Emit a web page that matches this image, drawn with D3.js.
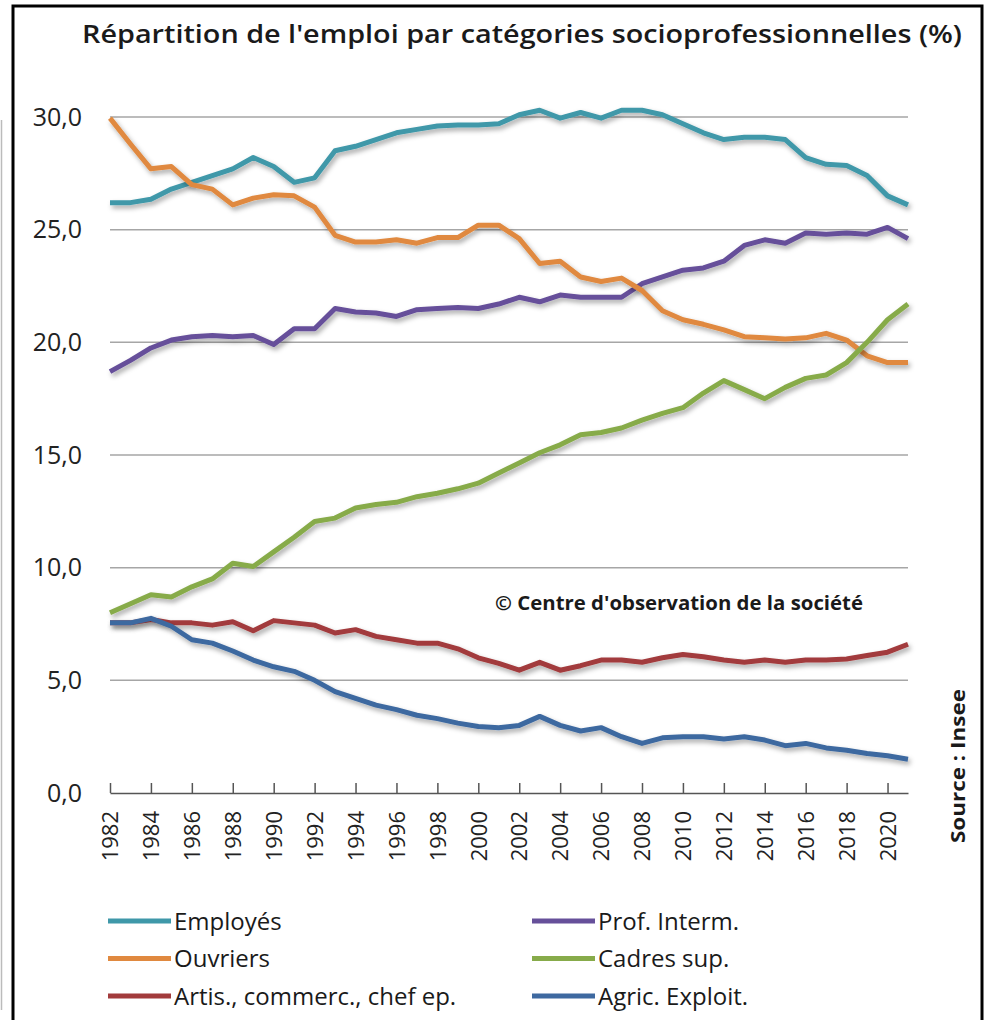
<html>
<head>
  <meta charset="utf-8" />
  <script src="https://d3js.org/d3.v7.min.js"></script>
</head>
<body style="margin: 0; background: white">
<script>

// years on the category axis
var years = [1982, 1983, 1984, 1985, 1986, 1987, 1988, 1989, 1990, 1991,
             1992, 1993, 1994, 1995, 1996, 1997, 1998, 1999, 2000, 2001,
             2002, 2003, 2004, 2005, 2006, 2007, 2008, 2009, 2010, 2011,
             2012, 2013, 2014, 2015, 2016, 2017, 2018, 2019, 2020, 2021]

var tickYears = [1982, 1984, 1986, 1988, 1990, 1992, 1994, 1996, 1998, 2000,
                 2002, 2004, 2006, 2008, 2010, 2012, 2014, 2016, 2018, 2020]
var yTicks = [0, 5, 10, 15, 20, 25, 30]

var employes = [26.2, 26.2, 26.35, 26.8, 27.1, 27.4, 27.7, 28.2, 27.8, 27.1,
                27.3, 28.5, 28.7, 29.0, 29.3, 29.45, 29.6, 29.65, 29.65, 29.7,
                30.1, 30.3, 29.95, 30.2, 29.95, 30.3, 30.3, 30.1, 29.7, 29.3,
                29.0, 29.1, 29.1, 29.0, 28.2, 27.9, 27.85, 27.4, 26.5, 26.1]

var profInterm = [18.7, 19.2, 19.75, 20.1, 20.25, 20.3, 20.25, 20.3, 19.9, 20.6,
                  20.6, 21.5, 21.35, 21.3, 21.15, 21.45, 21.5, 21.55, 21.5, 21.7,
                  22.0, 21.8, 22.1, 22.0, 22.0, 22.0, 22.6, 22.9, 23.2, 23.3,
                  23.6, 24.3, 24.55, 24.4, 24.85, 24.8, 24.85, 24.8, 25.1, 24.6]

var ouvriers = [29.95, 28.8, 27.7, 27.8, 27.0, 26.8, 26.1, 26.4, 26.55, 26.5,
                26.0, 24.75, 24.45, 24.45, 24.55, 24.4, 24.65, 24.65, 25.2, 25.2,
                24.6, 23.5, 23.6, 22.9, 22.7, 22.85, 22.3, 21.4, 21.0, 20.8,
                20.55, 20.25, 20.2, 20.15, 20.2, 20.4, 20.1, 19.4, 19.1, 19.1]

var cadres = [8.0, 8.4, 8.8, 8.7, 9.15, 9.5, 10.2, 10.05, 10.7, 11.35,
              12.05, 12.2, 12.65, 12.8, 12.9, 13.15, 13.3, 13.5, 13.75, 14.2,
              14.65, 15.1, 15.45, 15.9, 16.0, 16.2, 16.55, 16.85, 17.1, 17.75,
              18.3, 17.9, 17.5, 18.0, 18.4, 18.55, 19.1, 20.0, 21.0, 21.7]

var artisans = [7.55, 7.55, 7.7, 7.55, 7.55, 7.45, 7.6, 7.2, 7.65, 7.55,
                7.45, 7.1, 7.25, 6.95, 6.8, 6.65, 6.65, 6.4, 6.0, 5.75,
                5.45, 5.8, 5.45, 5.65, 5.9, 5.9, 5.8, 6.0, 6.15, 6.05,
                5.9, 5.8, 5.9, 5.8, 5.9, 5.9, 5.95, 6.1, 6.25, 6.6]

var agriculteurs = [7.55, 7.55, 7.75, 7.4, 6.8, 6.65, 6.3, 5.9, 5.6, 5.4,
                    5.0, 4.5, 4.2, 3.9, 3.7, 3.45, 3.3, 3.1, 2.95, 2.9,
                    3.0, 3.4, 3.0, 2.75, 2.9, 2.5, 2.2, 2.45, 2.5, 2.5,
                    2.4, 2.5, 2.35, 2.1, 2.2, 2.0, 1.9, 1.75, 1.65, 1.5]

var seriesNames = ["Employés", "Prof. Interm.", "Ouvriers", "Cadres sup.",
                   "Artis., commerc., chef ep.", "Agric. Exploit."]
var seriesValues = [employes, profInterm, ouvriers, cadres, artisans, agriculteurs]
var seriesColors = ["#3f98a9", "#66509a", "#e0893f", "#87ab4a", "#a23b3c", "#3e69a0"]

var W = 989, H = 1020
var svg = d3.select("body").append("svg")
            .attr("width", W)
            .attr("height", H)

var defs = svg.append("defs")
var shadow = defs.append("filter").attr("id", "shadow")
               .attr("x", "-5%").attr("y", "-20%").attr("width", "110%").attr("height", "140%")
shadow.append("feDropShadow")
      .attr("dx", 2).attr("dy", 3).attr("stdDeviation", 2.5)
      .attr("flood-color", "#000").attr("flood-opacity", 0.35)

// frame
svg.append("path")
   .attr("d", "M13,1020 L13,6 L982,6 L982,1020")
   .attr("fill", "none").attr("stroke", "#000").attr("stroke-width", 3)
svg.append("line")
   .attr("x1", 1.5).attr("x2", 1.5).attr("y1", 120).attr("y2", 1010)
   .attr("stroke", "#bbb").attr("stroke-width", 1.5)

var x = d3.scalePoint().domain(years).range([110, 908])
var y = d3.scaleLinear().domain([0, 30]).range([793, 117])

var fmt = function(d) { return d3.format(".1f")(d).replace(".", ",") }

// gridlines
svg.append("g")
   .selectAll("line")
   .data(yTicks.filter(function(d) { return d > 0 }))
   .enter().append("line")
   .attr("x1", 110).attr("x2", 908)
   .attr("y1", function(d) { return y(d) })
   .attr("y2", function(d) { return y(d) })
   .attr("stroke", "#a6a6a6").attr("stroke-width", 1.5)

// y axis labels
var yAxis = svg.append("g")
   .attr("transform", "translate(82,0)")
   .call(d3.axisLeft(y).tickValues(yTicks).tickFormat(fmt).tickSize(0).tickPadding(0))
yAxis.select(".domain").remove()
yAxis.selectAll("text")
     .attr("font-family", "'Open Sans', sans-serif")
     .attr("font-size", 25)
     .attr("fill", "#222")

// x axis
var xAxis = svg.append("g")
   .attr("transform", "translate(0,793)")
   .call(d3.axisBottom(x).tickValues(tickYears).tickSizeInner(-10).tickSizeOuter(0).tickPadding(0))
xAxis.select(".domain").attr("stroke", "#555").attr("stroke-width", 1.5)
xAxis.selectAll(".tick line").attr("stroke", "#555").attr("stroke-width", 1.5).attr("y2", -10)
xAxis.selectAll("text")
     .attr("font-family", "'Open Sans', sans-serif")
     .attr("font-size", 22)
     .attr("fill", "#222")
     .attr("transform", "rotate(-90)")
     .attr("text-anchor", "end")
     .attr("x", -18)
     .attr("y", 0)
     .attr("dy", "0.35em")

// series
var line = d3.line()
  .x(function(d, i) { return x(years[i]) })
  .y(function(d) { return y(d) })

svg.append("g")
   .selectAll("path")
   .data(seriesValues)
   .enter().append("path")
   .attr("d", line)
   .attr("fill", "none")
   .attr("stroke", function(d, i) { return seriesColors[i] })
   .attr("stroke-width", 5)
   .attr("stroke-linejoin", "round")
   .attr("filter", "url(#shadow)")

// title
svg.append("text")
   .attr("x", 522).attr("y", 43)
   .attr("text-anchor", "middle")
   .attr("font-family", "'Open Sans', sans-serif")
   .attr("font-weight", 600)
   .attr("font-size", 26)
   .attr("textLength", 880)
   .attr("lengthAdjust", "spacingAndGlyphs")
   .attr("fill", "#1a1a1a")
   .text("Répartition de l'emploi par catégories socioprofessionnelles (%)")

// copyright
svg.append("text")
   .attr("x", 495).attr("y", 610)
   .attr("font-family", "'Open Sans', sans-serif")
   .attr("font-weight", "bold")
   .attr("font-size", 19)
   .attr("textLength", 368)
   .attr("lengthAdjust", "spacingAndGlyphs")
   .attr("fill", "#1a1a1a")
   .text("© Centre d'observation de la société")

// source
svg.append("text")
   .attr("transform", "translate(965,766) rotate(-90)")
   .attr("text-anchor", "middle")
   .attr("font-family", "'Open Sans', sans-serif")
   .attr("font-weight", "bold")
   .attr("font-size", 20)
   .attr("textLength", 154)
   .attr("lengthAdjust", "spacingAndGlyphs")
   .attr("fill", "#1a1a1a")
   .text("Source : Insee")

// legend, two columns filled row by row
var legend = svg.append("g")
  .selectAll("g")
  .data(seriesNames)
  .enter().append("g")
  .attr("transform", function(d, i) {
    return "translate(" + (i % 2 == 0 ? 108 : 532) + "," + (921 + Math.floor(i / 2) * 37.5) + ")"
  })

legend.append("line")
  .attr("x1", 0).attr("x2", 63)
  .attr("stroke", function(d, i) { return seriesColors[i] })
  .attr("stroke-width", 5)

legend.append("text")
  .attr("x", 66)
  .attr("dy", "0.36em")
  .attr("font-family", "'Open Sans', sans-serif")
  .attr("font-size", 24)
  .attr("fill", "#1a1a1a")
  .text(function(d) { return d })

</script>
</body>
</html>
